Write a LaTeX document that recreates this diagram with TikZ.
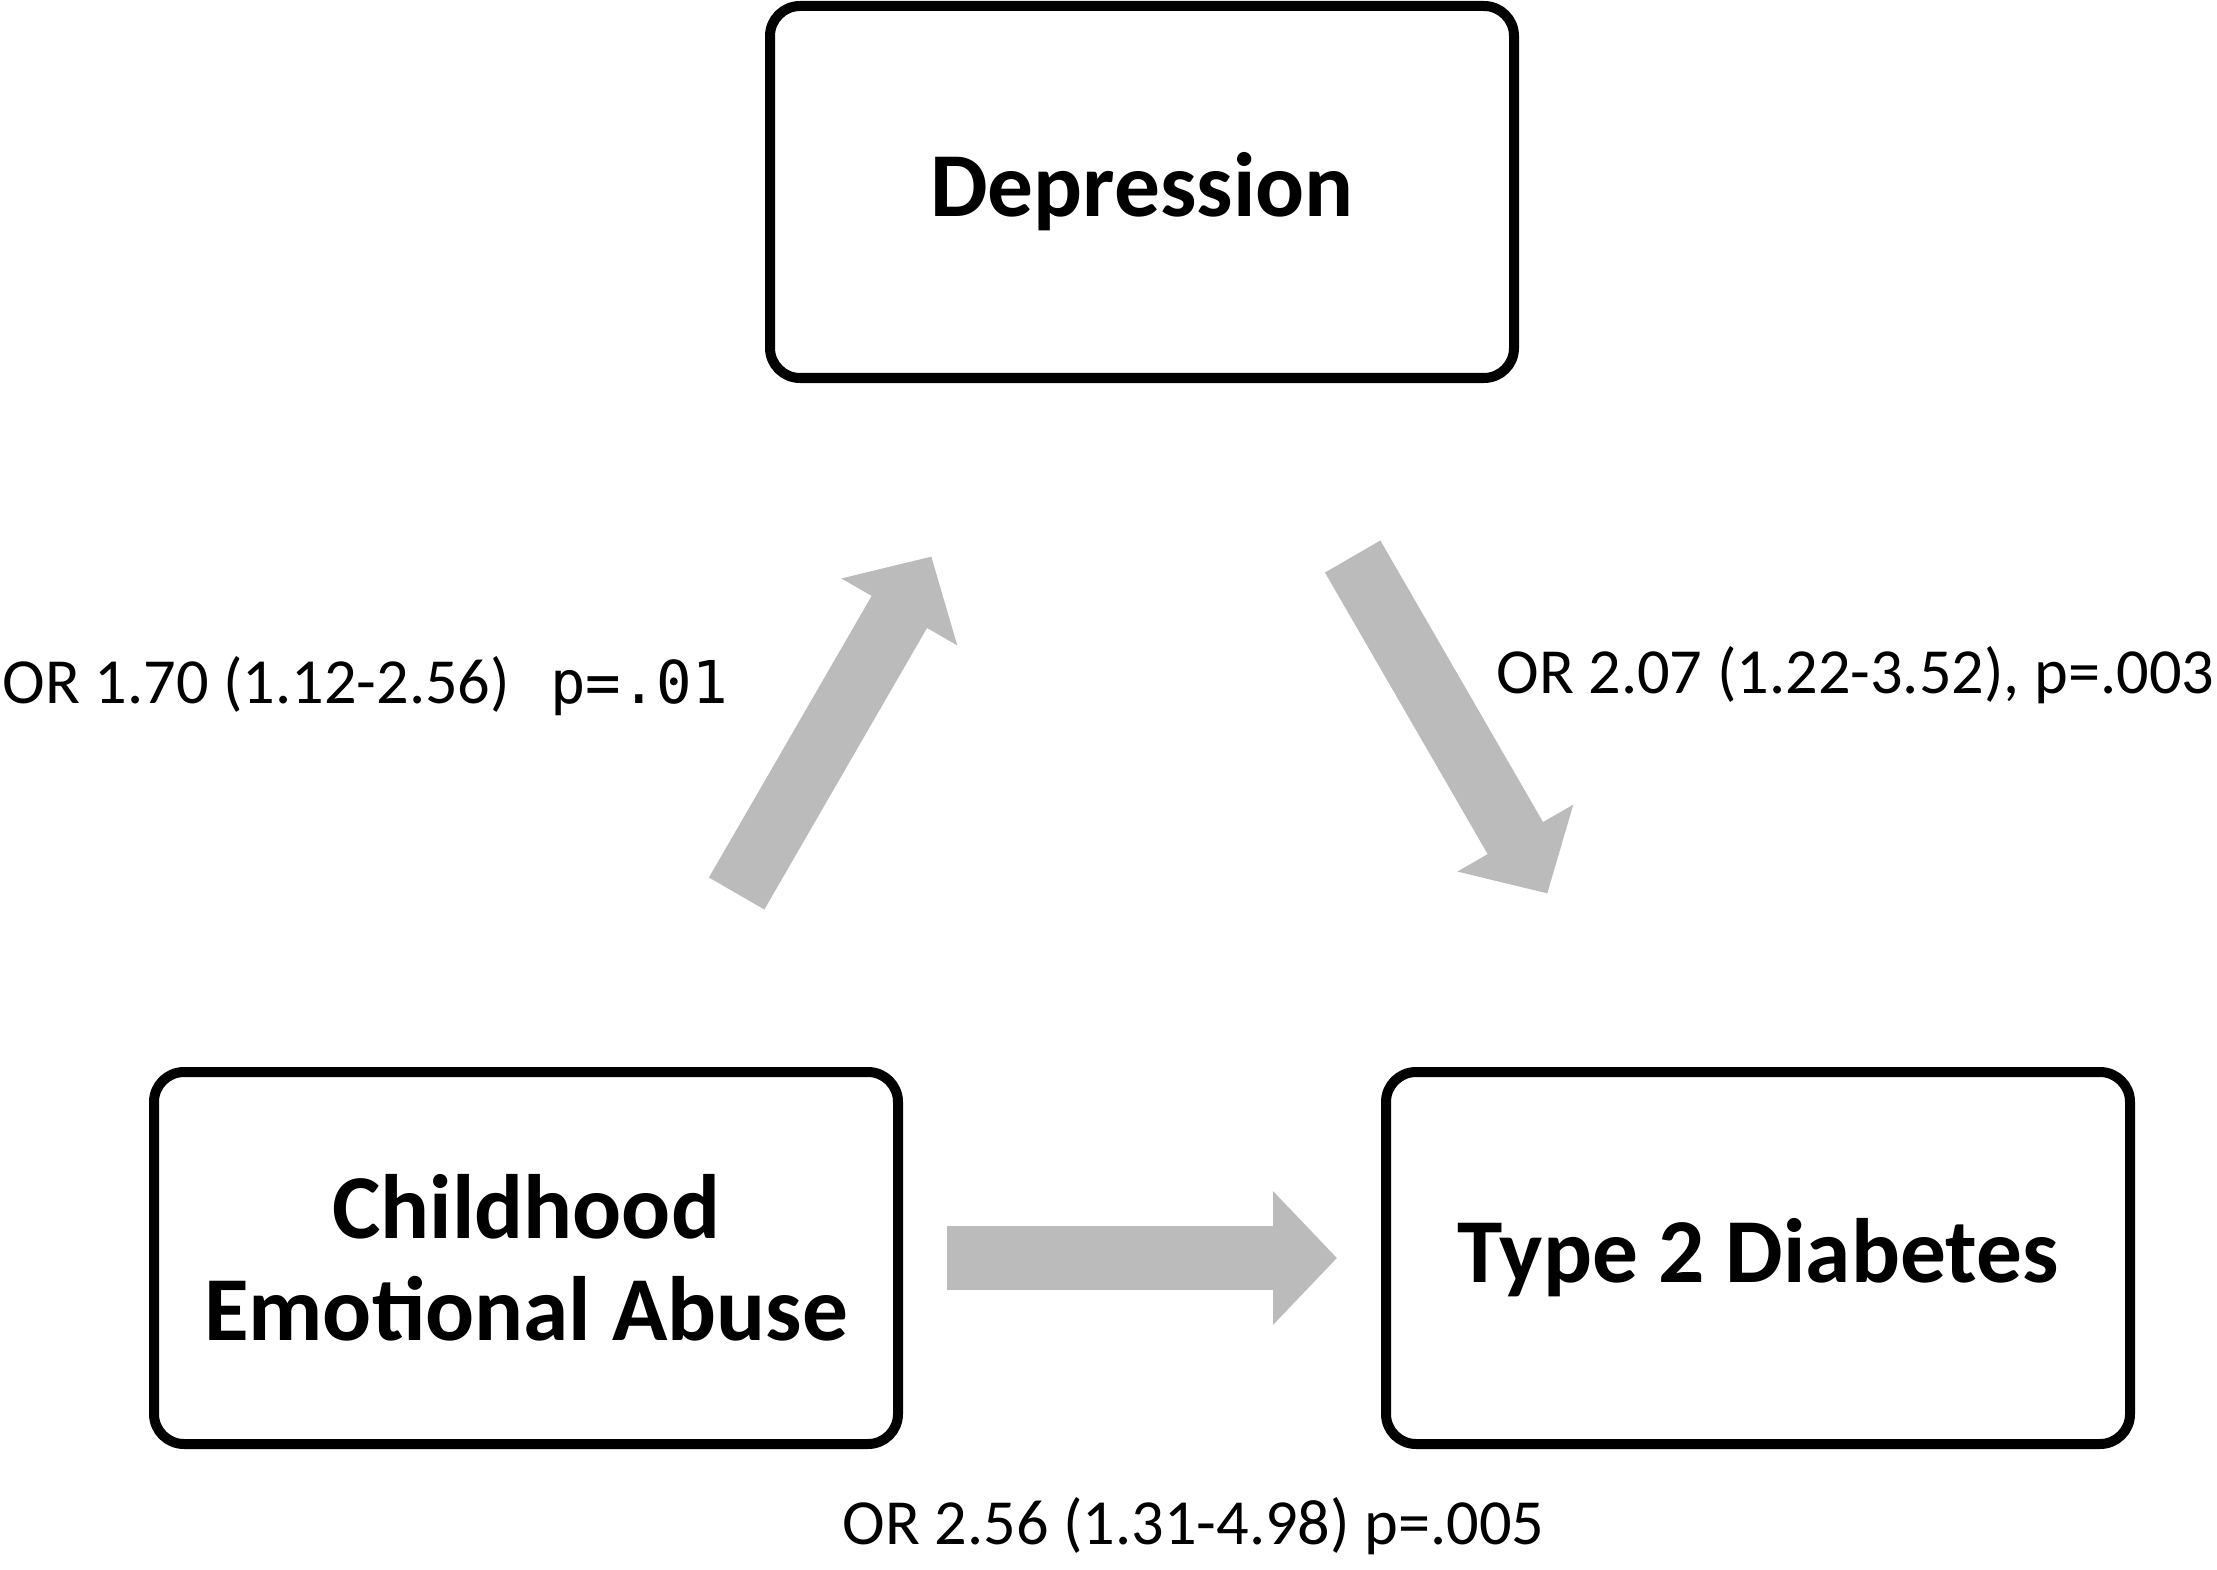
\documentclass[tikz,border=0pt]{standalone}
\usepackage{fontspec}
\setmainfont{Carlito}
\newfontfamily\monofont{DejaVu Sans Mono}
\usetikzlibrary{arrows.meta}
\definecolor{arrowgray}{RGB}{187,187,187}

\begin{document}
\begin{tikzpicture}[
    box/.style={draw, line width=0.1cm, rounded corners=0.3cm, minimum width=7.44cm, minimum height=3.72cm, align=center, font=\bfseries\fontsize{26}{29}\selectfont},
    flowarrow/.style={color=arrowgray, line width=0.64cm, -{Triangle[length=0.64cm,width=1.3cm]}, shorten <=4.21cm, shorten >=4.21cm},
    ortext/.style={font=\fontsize{18.3}{22}\selectfont, inner sep=0pt}]
    \useasboundingbox (0,0) rectangle (22.17,15.69);
    \node[box] (dep) at (11.42, 13.77) {Depression};
    \node[box] (cea) at (5.26, 3.11) {Childhood\\Emotional Abuse};
    \node[box] (t2d) at (17.58, 3.11) {Type 2 Diabetes};
	\draw[flowarrow] (cea.center) -- (dep.center);
	\draw[flowarrow] (dep.center) -- (t2d.center);
	\draw[flowarrow] (cea.center) -- (t2d.center);
    \node[ortext, anchor=base west] (or1) at (0.02, 8.66) {OR 1.70 (1.12-2.56)\hspace{0.4cm}{\monofont\fontsize{16.8}{19}\selectfont p=.01}};
    \node[ortext, anchor=base east] (or2) at (22.15, 8.76) {OR 2.07 (1.22-3.52), p=.003};
    \node[ortext, anchor=base west] (or3) at (8.42, 0.25) {OR 2.56 (1.31-4.98) p=.005};
\end{tikzpicture}
\end{document}
